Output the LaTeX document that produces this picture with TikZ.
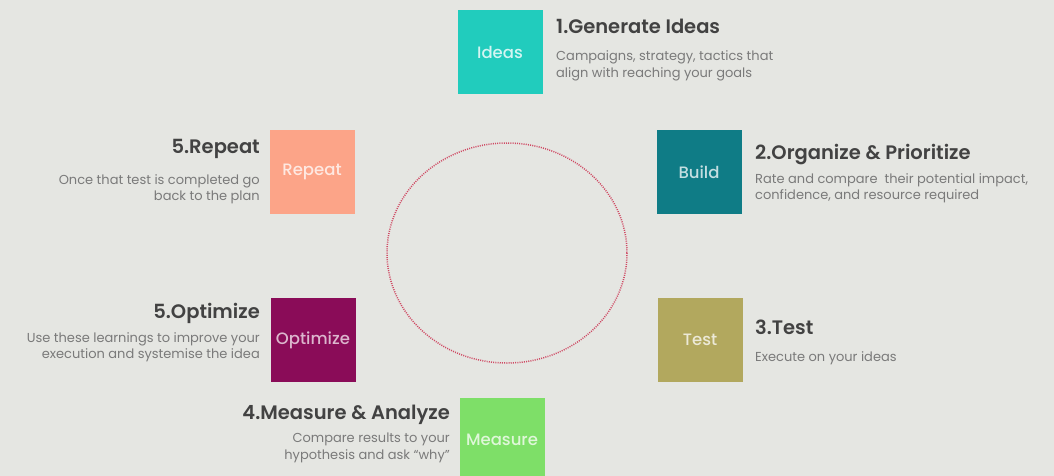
\documentclass[tikz,border=0pt]{standalone}
\usepackage{fontspec}
\setmainfont{Poppins}
\newfontfamily\headfont{Poppins SemiBold}
\newfontfamily\labelfont{Poppins Medium}
\usetikzlibrary{positioning}
\definecolor{pagebg}{HTML}{E5E6E2}
\definecolor{headink}{HTML}{424242}
\definecolor{noteink}{HTML}{7A7A7A}
\definecolor{ringred}{HTML}{CF4A64}
\definecolor{ideasc}{HTML}{21CCBD}
\definecolor{buildc}{HTML}{0F7C86}
\definecolor{testc}{HTML}{B2A85E}
\definecolor{measurec}{HTML}{7EDF68}
\definecolor{optimc}{HTML}{8A0C58}
\definecolor{repeatc}{HTML}{FCA488}
\tikzset{
  stage/.style={minimum width=85pt, minimum height=84pt, inner sep=0pt,
    font=\labelfont\fontsize{16.5}{20}\selectfont},
  head/.style={inner sep=0pt, text=headink, font=\headfont\fontsize{19.5}{24}\selectfont},
  note/.style={inner sep=0pt, text=noteink, font=\fontsize{13}{16.5}\selectfont},
  ring/.style={draw=ringred, line width=1.5pt, dash pattern=on 1pt off 1.2pt}
}

\begin{document}
\begin{tikzpicture}[x=1pt, y=-1pt]
\useasboundingbox (0,0) rectangle (1054,476);
\clip (0,0) rectangle (1054,476);
\fill[pagebg] (0,0) rectangle (1054,476);

\draw[ring] (507,253) ellipse [x radius=120, y radius=110];

\node[stage, fill=ideasc, text=ideasc!20!white] (ideas) at (500,52) {Ideas};
\node[stage, fill=buildc, text=buildc!25!white] (build) at (699,172) {Build};
\node[stage, fill=testc, text=testc!25!white] (test) at (700,340) {Test};
\node[stage, fill=measurec, text=measurec!25!white] (measure) at (502,440) {Measure};
\node[stage, fill=optimc, text=optimc!30!white] (optimize) at (313,340) {Optimize};
\node[stage, fill=repeatc, text=repeatc!25!white] (repeat) at (312,172) {Repeat};

\node[head, anchor=west] (ideas-t) at (556,26) {1.Generate Ideas};
\node[note, anchor=west, align=left] (ideas-d) at (556,66) {Campaigns, strategy, tactics that\\align with reaching your goals};

\node[head, anchor=west] (build-t) at (755,155) {2.Organize \& Prioritize};
\node[note, anchor=west, align=left] (build-d) at (755,188) {Rate and compare\ \ their potential impact,\\confidence, and resource required};

\node[head, anchor=west] (test-t) at (755,327) {3.Test};
\node[note, anchor=west, align=left] (test-d) at (755,358) {Execute on your ideas};

\node[head, anchor=east] (measure-t) at (450,415) {4.Measure \& Analyze};
\node[note, anchor=east, align=right] (measure-d) at (450,448) {Compare results to your\\hypothesis and ask “why”};

\node[head, anchor=east] (optimize-t) at (260,313) {5.Optimize};
\node[note, anchor=east, align=right] (optimize-d) at (260,347) {Use these learnings to improve your\\execution and systemise the idea};

\node[head, anchor=east] (repeat-t) at (260,149) {5.Repeat};
\node[note, anchor=east, align=right] (repeat-d) at (260,189) {Once that test is completed go\\back to the plan};
\end{tikzpicture}
\end{document}
